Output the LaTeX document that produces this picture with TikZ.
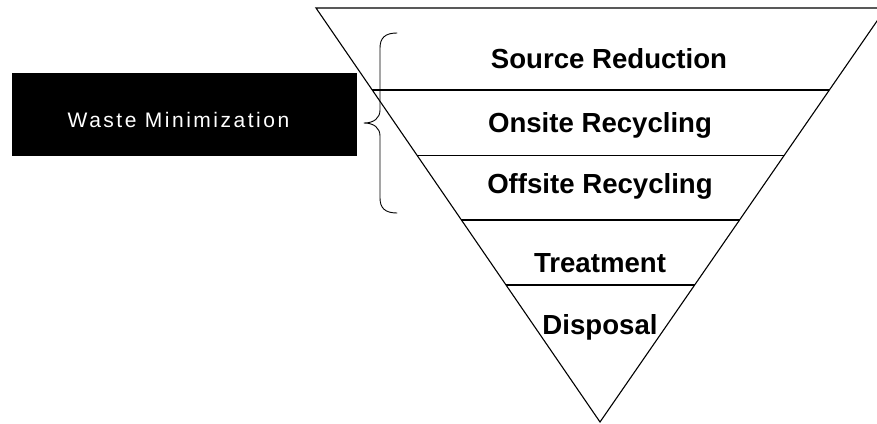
\documentclass[tikz,border=0pt]{standalone}
\usepackage{fontspec}
\setmainfont{Liberation Sans}
\usetikzlibrary{calc}
\begin{document}
\begin{tikzpicture}[x=1pt,y=-1pt,
  level/.style={font=\fontsize{27.6}{30}\selectfont\bfseries, anchor=base, inner sep=0pt},
  edge/.style={line width=1.1pt, line join=miter},
  tag/.style={font=\fontsize{21}{24}\selectfont\addfontfeature{LetterSpace=12}, text=white, anchor=base, inner sep=0pt},
  bracket/.style={line width=0.9pt, line cap=round, line join=round},
]
\useasboundingbox (0,0) rectangle (877,423);
\clip (0,0) rectangle (877,423);

% inverted triangle of the hierarchy
\coordinate (tl) at (316,8);
\coordinate (tr) at (886,8);
\coordinate (ap) at (600,422);
\draw[edge] (tl) -- (tr) -- (ap) -- cycle;

% dividing lines between the levels
\foreach \yy [count=\i] in {90,155.5,220,285} {
  \pgfmathsetmacro{\t}{(\yy-8)/414}
  \coordinate (l\i) at ($(tl)!\t!(ap)$);
  \coordinate (r\i) at ($(tr)!\t!(ap)$);
  \draw[edge] (l\i) -- (r\i);
}

% level labels
\node[level] (src) at (609,68) {Source Reduction};
\node[level] (ons) at (600,132) {Onsite Recycling};
\node[level] (off) at (600,193) {Offsite Recycling};
\node[level] (trt) at (600,272) {Treatment};
\node[level] (dsp) at (600,334) {Disposal};

% black label box
\node[fill=black, minimum width=345pt, minimum height=83pt, inner sep=0pt] (box) at (184.5,114.5) {};
\node[tag] (wm) at (178.5,127) {Waste Minimization};

% curly brace grouping the first three levels
\coordinate (bt) at (397,33);
\coordinate (bm) at (364,123);
\coordinate (bb) at (397,213);
\draw[bracket] (bt) .. controls (385,33) and (380,38) .. (380,48)
  -- (380,110) .. controls (380,118) and (374,123) .. (bm)
  .. controls (374,123) and (380,128) .. (380,136)
  -- (380,198) .. controls (380,208) and (385,213) .. (bb);
\end{tikzpicture}
\end{document}
